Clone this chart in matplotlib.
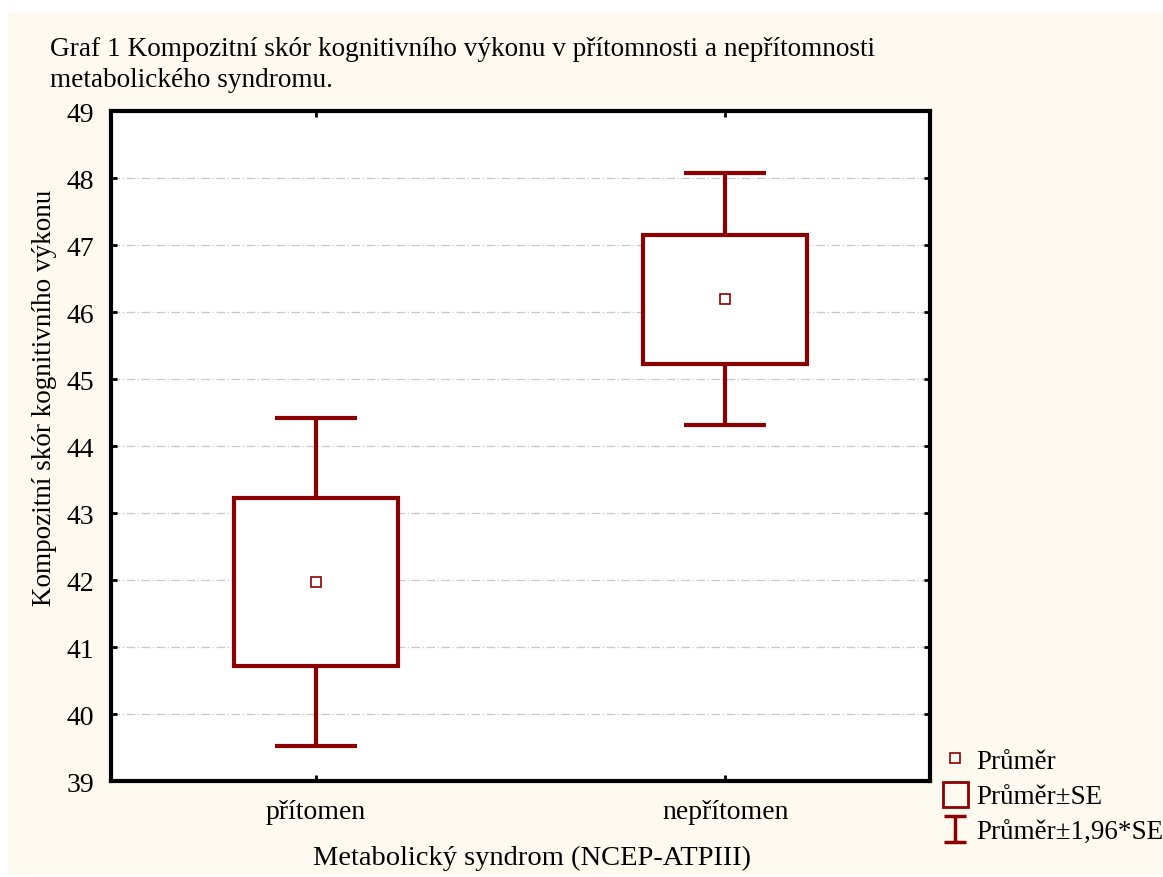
import matplotlib
matplotlib.use("Agg")
import matplotlib.pyplot as plt
from matplotlib.patches import Rectangle
from matplotlib.lines import Line2D
from matplotlib.path import Path

# group means and standard errors of the composite cognitive score
categories = ["přítomen", "nepřítomen"]
means = [41.97, 46.19]
se = [1.25, 0.96]
ci_mult = 1.96

yticks = list(range(39, 50))

RED = "#8b0000"
CREAM = "#fffaf0"

plt.rcParams["font.family"] = ["Liberation Serif", "DejaVu Serif"]

fig = plt.figure(figsize=(11.63, 8.78), dpi=100)
fig.patch.set_facecolor("white")
fig.patches.append(Rectangle((8 / 1163, 2 / 878), 1 - 8 / 1163, 863 / 878,
                             transform=fig.transFigure, facecolor=CREAM,
                             edgecolor="none", zorder=-10))

ax = fig.add_axes([111 / 1163, 96 / 878, 819 / 1163, 670 / 878])
ax.set_facecolor("white")

for i, (m, s) in enumerate(zip(means, se)):
    lo, hi = m - ci_mult * s, m + ci_mult * s
    ax.vlines(i, lo, hi, color=RED, lw=3, zorder=2)
    ax.hlines([lo, hi], i - 0.1, i + 0.1, color=RED, lw=3, zorder=2)
    ax.add_patch(Rectangle((i - 0.2, m - s), 0.4, 2 * s, facecolor="white",
                           edgecolor=RED, lw=3, zorder=3))
    ax.plot(i, m, marker="s", ms=7, mfc="white", mec=RED, mew=1.2, zorder=4)

ax.set_xlim(-0.5, 1.5)
ax.set_ylim(39, 49)
ax.set_yticks(yticks)
ax.set_xticks(range(len(categories)))
ax.set_xticklabels(categories)
ax.tick_params(direction="in", length=4, width=2, labelsize=20,
               top=True, right=True)
ax.tick_params(axis="y", pad=12)
ax.tick_params(axis="x", pad=13)
ax.grid(axis="y", color="#c8c8c8", lw=0.9, linestyle=(0, (7, 2, 1, 2)), zorder=1)
for sp in ax.spines.values():
    sp.set_linewidth(3)

fig.text(50 / 1163, 1 - 37 / 878,
         "Graf 1 Kompozitní skór kognitivního výkonu v přítomnosti a nepřítomnosti\n"
         "metabolického syndromu.",
         fontsize=19.6, va="top", ha="left", linespacing=1.32)
fig.text(45 / 1163, 1 - 398 / 878, "Kompozitní skór kognitivního výkonu",
         rotation=90, fontsize=19.5, ha="center", va="center")
fig.text(532 / 1163, 1 - 858 / 878, "Metabolický syndrom (NCEP-ATPIII)",
         fontsize=20.5, ha="center", va="center")

# legend handles: mean point, +-SE box, +-1.96*SE whisker
ibar = Path([(-0.85, 1), (0.85, 1), (0, 1), (0, -1), (-0.85, -1), (0.85, -1)],
            [Path.MOVETO, Path.LINETO, Path.MOVETO, Path.LINETO,
             Path.MOVETO, Path.LINETO])
handles = [
    Line2D([], [], ls="none", marker="s", ms=6.5, mfc="none", mec=RED, mew=1.2),
    Line2D([], [], ls="none", marker="s", ms=18, mfc="none", mec=RED, mew=2),
    Line2D([], [], ls="none", marker=ibar, ms=19, mec=RED, mew=2.5),
]
labels = ["Průměr", "Průměr±SE", "Průměr±1,96*SE"]
fig.legend(handles, labels, loc="upper left",
           bbox_to_anchor=(931 / 1163, 1 - 739 / 878), frameon=False,
           fontsize=19.5, handlelength=1.0, handletextpad=0.27,
           labelspacing=0.38, borderaxespad=0)

fig.savefig("out.png", dpi=100, facecolor=fig.get_facecolor())
